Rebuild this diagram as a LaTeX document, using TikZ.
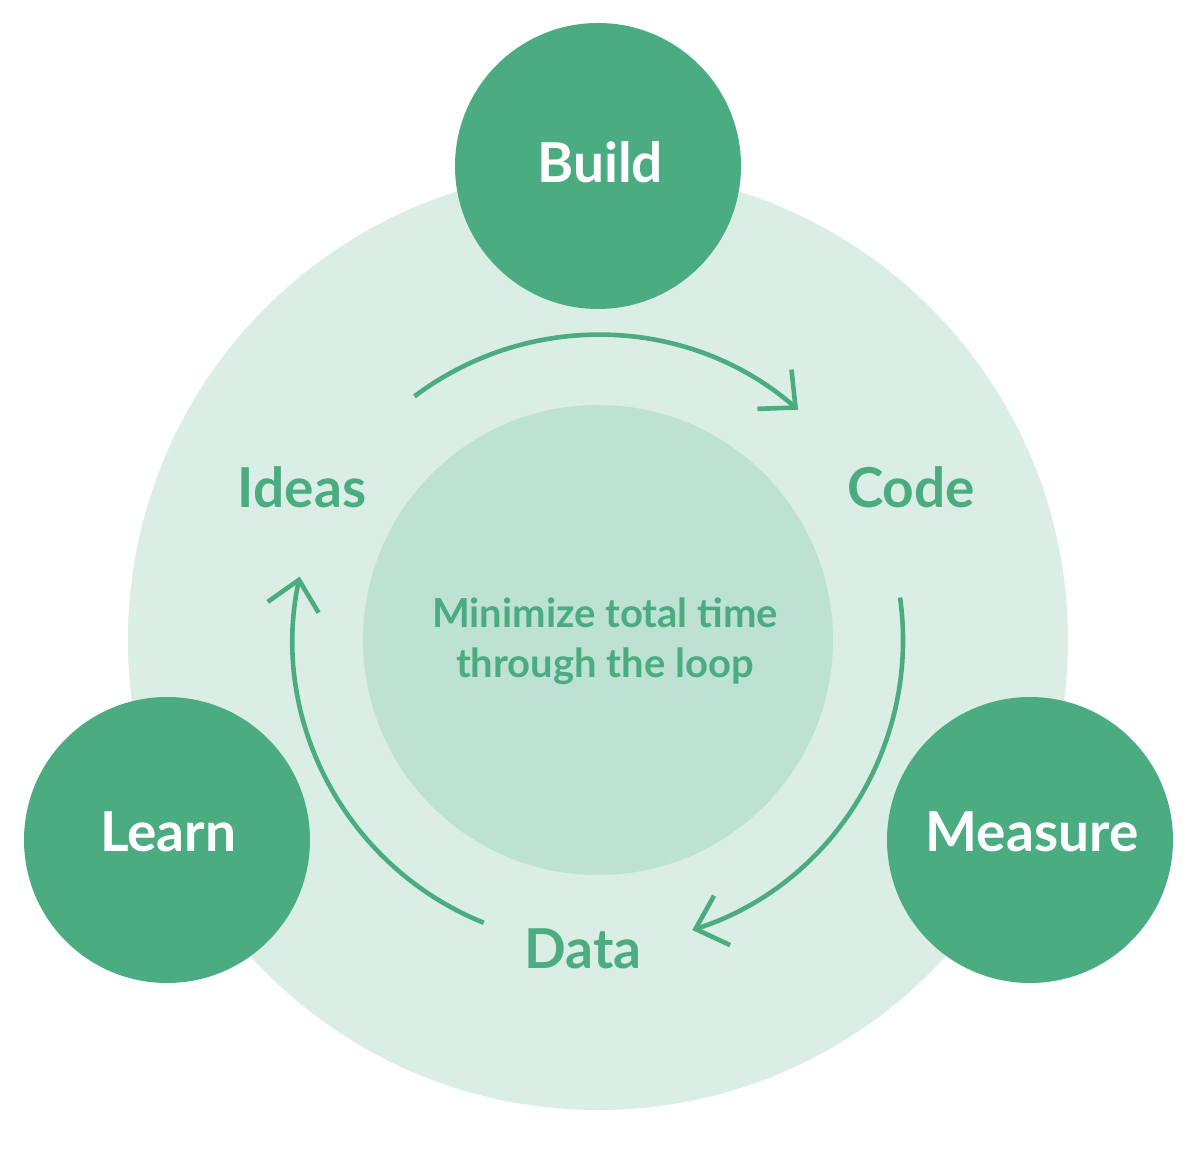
\documentclass[tikz,border=0pt]{standalone}
\usepackage{fontspec}
\setmainfont{Lato}
\usetikzlibrary{arrows.meta}
\definecolor{dgreen}{HTML}{4BAC82}
\definecolor{lbg}{HTML}{DAEEE5}
\definecolor{inner}{HTML}{BDE2D4}
\tikzset{
  stage/.style={circle,fill=dgreen,minimum size=286pt,inner sep=0pt,anchor=center},
  lbl/.style={text=dgreen,font=\fontsize{55}{60}\selectfont\bfseries,inner sep=0pt,anchor=base},
  wlbl/.style={text=white,font=\fontsize{55}{60}\selectfont\bfseries,inner sep=0pt,anchor=base},
  arr/.style={draw=dgreen,line width=4.6pt,-{Straight Barb[length=28pt,width=52pt,line width=4.6pt]}}
}
\begin{document}
\begin{tikzpicture}[x=1pt,y=1pt]
\useasboundingbox (0,0) rectangle (1199,1149);
\fill[white] (0,0) rectangle (1199,1149);
\coordinate (ctr) at (598,509);
\fill[lbg] (ctr) circle[radius=470];
\fill[inner] (ctr) circle[radius=235];
\node[stage] (build) at (598,983) {};
\node[stage] (learn) at (167,309) {};
\node[stage] (measure) at (1030,309) {};
\node[wlbl] (buildt) at (600,966) {Build};
\node[wlbl] (learnt) at (168,297) {Learn};
\node[wlbl] (measuret) at (1032,297) {Measure};
\node[lbl] (ideas) at (302,641) {Ideas};
\node[lbl] (code) at (911,641) {Code};
\node[lbl] (data) at (583,181) {Data};
\node[text=dgreen,font=\fontsize{40}{50}\selectfont\bfseries,align=center,inner sep=0pt,anchor=base] (mid) at (605,471) {Minimize total time\\through the loop};
\draw[arr] ([shift={(127:305)}]ctr) arc[start angle=127,end angle=49,radius=305];
\draw[arr] ([shift={(8:305)}]ctr) arc[start angle=8,end angle=-72,radius=305];
\draw[arr] ([shift={(-112:305)}]ctr) arc[start angle=-112,end angle=-192,radius=305];
\end{tikzpicture}
\end{document}
